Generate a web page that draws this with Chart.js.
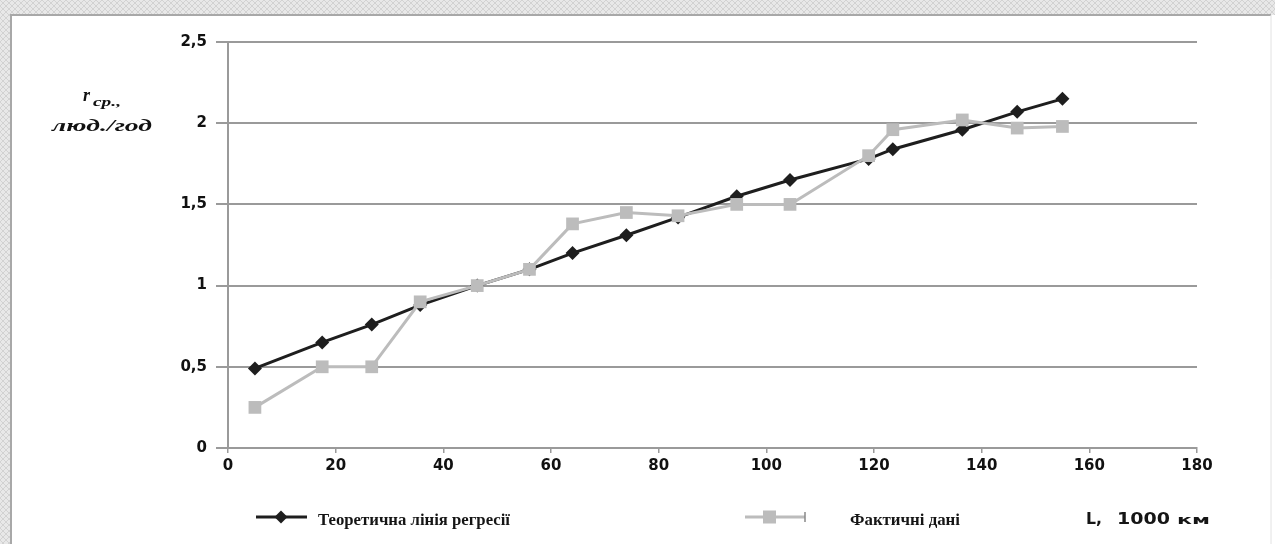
<!DOCTYPE html>
<html>
<head>
<meta charset="utf-8">
<script src="https://cdn.jsdelivr.net/npm/chart.js@4/dist/chart.umd.min.js"></script>
<style>
  html, body { margin: 0; padding: 0; background: #fff; }
  #wrap { width: 1275px; height: 544px; position: relative; }
  canvas { display: block; }
</style>
</head>
<body>
<div id="wrap"><canvas id="chart" width="1275" height="544"></canvas></div>
<script>
// Distance, thousand km
const distance = [5, 17.5, 26.7, 35.7, 46.3, 56, 64, 74, 83.6, 94.5, 104.4, 119, 123.5, 136.4, 146.6, 155];
// Theoretical regression line values
const regressionLine = [0.49, 0.65, 0.76, 0.88, 1.0, 1.1, 1.2, 1.31, 1.42, 1.55, 1.65, 1.78, 1.84, 1.96, 2.07, 2.15];
// Observed values
const actualData = [0.25, 0.5, 0.5, 0.9, 1.0, 1.1, 1.38, 1.45, 1.43, 1.5, 1.5, 1.8, 1.96, 2.02, 1.97, 1.98];

const seriesNames = ['Теоретична лінія регресії', 'Фактичні дані'];
const xAxisTitleParts = ['L,', '1000', 'км'];
const yAxisTitleMain = 'r';
const yAxisTitleSub = 'ср.,';
const yAxisTitleUnit = 'люд./год';

const BLACK = '#1e1e1e';
const GREY = '#bcbcbc';
const GRID = '#9a9a9a';
const TICK_FONT = { family: '"DejaVu Sans"', size: 15, weight: 'bold' };

const toPoints = ys => distance.map((x, i) => ({ x, y: ys[i] }));

// Draws text stretched horizontally to fill a given width
function fitText(ctx, text, x, y, width) {
  const w = ctx.measureText(text).width;
  ctx.save();
  ctx.translate(x, y);
  ctx.scale(width / w, 1);
  ctx.fillText(text, 0, 0);
  ctx.restore();
}

// Paper frame with a light hatched margin at top and left
const framePlugin = {
  id: 'frame',
  beforeDraw(chart) {
    const ctx = chart.ctx;
    const W = chart.width, H = chart.height;
    ctx.save();
    const pc = document.createElement('canvas');
    pc.width = 6; pc.height = 6;
    const p = pc.getContext('2d');
    p.fillStyle = '#e8e8e8'; p.fillRect(0, 0, 6, 6);
    p.strokeStyle = '#d2d2d2'; p.lineWidth = 1;
    p.beginPath(); p.moveTo(0, 6); p.lineTo(6, 0); p.stroke();
    p.beginPath(); p.moveTo(0, 0); p.lineTo(6, 6); p.stroke();
    ctx.fillStyle = ctx.createPattern(pc, 'repeat');
    ctx.fillRect(0, 0, W, H);
    ctx.fillStyle = '#ffffff';
    ctx.fillRect(11, 15, W - 11, H - 15);
    ctx.strokeStyle = '#a8a8a8';
    ctx.lineWidth = 2;
    ctx.beginPath();
    ctx.moveTo(11, H); ctx.lineTo(11, 15); ctx.lineTo(W - 4, 15);
    ctx.stroke();
    ctx.strokeStyle = '#e2e2e2';
    ctx.lineWidth = 1;
    ctx.beginPath(); ctx.moveTo(W - 4, 15); ctx.lineTo(W - 4, H); ctx.stroke();
    ctx.restore();
  }
};

// Axis titles and the legend row under the x axis
const annotationPlugin = {
  id: 'annotations',
  afterDraw(chart) {
    const ctx = chart.ctx;
    ctx.save();
    // y axis title
    ctx.fillStyle = '#111';
    ctx.textBaseline = 'alphabetic';
    ctx.textAlign = 'left';
    ctx.font = 'italic bold 18px "Liberation Serif"';
    ctx.fillText(yAxisTitleMain, 83, 101);
    ctx.font = 'italic bold 12px "Liberation Serif"';
    fitText(ctx, yAxisTitleSub, 93, 106, 28);
    ctx.font = 'italic bold 16px "Liberation Serif"';
    fitText(ctx, yAxisTitleUnit, 52, 131, 100);

    const ly = 517;
    // regression sample
    ctx.strokeStyle = BLACK; ctx.lineWidth = 3;
    ctx.beginPath(); ctx.moveTo(256, ly); ctx.lineTo(307, ly); ctx.stroke();
    ctx.fillStyle = BLACK;
    ctx.beginPath();
    ctx.moveTo(281, ly - 6.5); ctx.lineTo(287.5, ly); ctx.lineTo(281, ly + 6.5); ctx.lineTo(274.5, ly);
    ctx.closePath(); ctx.fill();
    // observed sample
    ctx.strokeStyle = GREY; ctx.lineWidth = 3;
    ctx.beginPath(); ctx.moveTo(745, ly); ctx.lineTo(805, ly); ctx.stroke();
    ctx.fillStyle = GREY;
    ctx.fillRect(763, ly - 6.5, 13, 13);
    ctx.strokeStyle = '#888'; ctx.lineWidth = 1.5;
    ctx.beginPath(); ctx.moveTo(805, ly - 5); ctx.lineTo(805, ly + 5); ctx.stroke();

    ctx.fillStyle = '#151515';
    ctx.textAlign = 'left';
    ctx.textBaseline = 'alphabetic';
    ctx.font = 'bold 16px "Liberation Serif"';
    fitText(ctx, seriesNames[0], 318, ly + 8, 192);
    fitText(ctx, seriesNames[1], 850, ly + 8, 110);
    // x axis title
    ctx.font = 'bold 15px "DejaVu Sans"';
    fitText(ctx, xAxisTitleParts[0], 1086, ly + 7, 16);
    fitText(ctx, xAxisTitleParts[1], 1117, ly + 7, 53);
    ctx.font = 'bold 12px "DejaVu Sans"';
    fitText(ctx, xAxisTitleParts[2], 1177, ly + 7, 33);
    ctx.restore();
  }
};

new Chart(document.getElementById('chart'), {
  type: 'line',
  data: {
    datasets: [
      {
        label: seriesNames[0],
        data: toPoints(regressionLine),
        borderColor: BLACK,
        backgroundColor: BLACK,
        borderWidth: 3,
        pointStyle: 'rectRot',
        pointRadius: 7,
        pointBorderWidth: 0,
        tension: 0,
        order: 2
      },
      {
        label: seriesNames[1],
        data: toPoints(actualData),
        borderColor: GREY,
        backgroundColor: GREY,
        borderWidth: 3,
        pointStyle: 'rect',
        pointRadius: 9,
        pointBorderWidth: 0,
        tension: 0,
        order: 1
      }
    ]
  },
  options: {
    responsive: false,
    animation: false,
    devicePixelRatio: 1,
    layout: { padding: { left: 0, right: 78, top: 42, bottom: 0 } },
    plugins: {
      legend: { display: false },
      tooltip: { enabled: false }
    },
    scales: {
      x: {
        type: 'linear',
        min: 0, max: 180,
        ticks: {
          stepSize: 20,
          color: '#111',
          font: TICK_FONT,
          padding: 4,
          maxRotation: 0
        },
        grid: { drawOnChartArea: false, drawTicks: true, tickLength: 5, color: GRID, lineWidth: 1.5 },
        border: { color: GRID, width: 2 },
        afterFit(scale) { scale.height = 96; }
      },
      y: {
        min: 0, max: 2.5,
        ticks: {
          stepSize: 0.5,
          color: '#111',
          font: TICK_FONT,
          padding: 9,
          callback: v => String(v).replace('.', ',')
        },
        grid: { color: GRID, lineWidth: 2, tickLength: 12 },
        border: { color: GRID, width: 2 },
        afterFit(scale) { scale.width = 228; }
      }
    }
  },
  plugins: [framePlugin, annotationPlugin]
});
</script>
</body>
</html>
